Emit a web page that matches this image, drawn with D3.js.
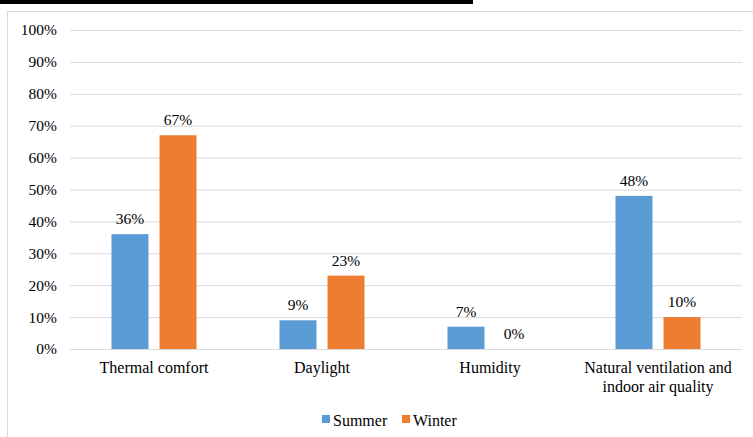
<!DOCTYPE html>
<html>
<head>
<meta charset="utf-8">
<script src="https://cdn.jsdelivr.net/npm/d3@7"></script>
<style>
  body { margin: 0; background: #fff; }
</style>
</head>
<body>
<script>
// chart data
const categories = ["Thermal comfort", "Daylight", "Humidity", "Natural ventilation and|indoor air quality"];
const seriesNames = ["Summer", "Winter"];
const summerValues = [36, 9, 7, 48];
const winterValues = [67, 23, 0, 10];
const yTicks = [0, 10, 20, 30, 40, 50, 60, 70, 80, 90, 100];

const width = 753, height = 437;
const colors = { Summer: "#5B9BD5", Winter: "#ED7D31" };
const serif = "Liberation Serif";

const svg = d3.select("body").append("svg")
  .attr("width", width)
  .attr("height", height)
  .attr("font-family", serif);

// cropped title bar at the top
svg.append("rect")
  .attr("x", 0).attr("y", 0)
  .attr("width", 473).attr("height", 4)
  .attr("fill", "#000");

// chart area border
svg.append("rect")
  .attr("x", 7.5).attr("y", 11.5)
  .attr("width", 760).attr("height", 440)
  .attr("fill", "none")
  .attr("stroke", "#d9d9d9");

const x = d3.scaleBand()
  .domain(categories)
  .range([70, 742]);

const xs = d3.scaleBand()
  .domain(seriesNames)
  .range([0, 85])
  .paddingInner(0.23);

const y = d3.scaleLinear()
  .domain([0, 100])
  .range([349, 30]);

// gridlines + y labels
const yAxis = svg.append("g")
  .attr("transform", "translate(70,0)")
  .call(d3.axisLeft(y).tickValues(yTicks).tickFormat(d => d + "%").tickSize(-672).tickPadding(13));
yAxis.attr("font-family", serif).attr("font-size", 15.5);
yAxis.select(".domain").remove();
yAxis.selectAll("line").attr("stroke", "#d9d9d9");
yAxis.selectAll("text")
  .style("font-family", serif)
  .style("font-size", "15.5px")
  .attr("fill", "#000");

const rows = categories.map((c, i) => ({ cat: c, Summer: summerValues[i], Winter: winterValues[i] }));

const groups = svg.append("g")
  .selectAll("g")
  .data(rows)
  .join("g")
  .attr("transform", d => `translate(${x(d.cat) + (x.bandwidth() - 85) / 2},0)`);

groups.selectAll("rect")
  .data(d => seriesNames.map(s => ({ key: s, value: d[s] })))
  .join("rect")
  .attr("x", d => xs(d.key))
  .attr("y", d => y(d.value))
  .attr("width", xs.bandwidth())
  .attr("height", d => y(0) - y(d.value))
  .attr("fill", d => colors[d.key]);

groups.selectAll("text.val")
  .data(d => seriesNames.map(s => ({ key: s, value: d[s] })))
  .join("text")
  .attr("class", "val")
  .attr("x", d => xs(d.key) + xs.bandwidth() / 2)
  .attr("y", d => y(d.value) - 10)
  .attr("text-anchor", "middle")
  .style("font-family", serif)
  .style("font-size", "15.5px")
  .text(d => d.value + "%");

// category labels
const catLabels = svg.append("g")
  .selectAll("text")
  .data(categories)
  .join("text")
  .attr("x", d => x(d) + x.bandwidth() / 2)
  .attr("y", 373)
  .attr("text-anchor", "middle")
  .style("font-family", serif)
  .style("font-size", "16px");
catLabels.selectAll("tspan")
  .data(d => d.split("|"))
  .join("tspan")
  .attr("x", function() { return this.parentNode.getAttribute("x"); })
  .attr("dy", (d, i) => i === 0 ? 0 : 19)
  .text(d => d);

// legend
const legend = svg.append("g")
  .selectAll("g")
  .data(seriesNames)
  .join("g")
  .attr("transform", (d, i) => `translate(${[322, 402][i]},0)`);
legend.append("rect")
  .attr("x", 0).attr("y", 415)
  .attr("width", 8).attr("height", 8)
  .attr("fill", d => colors[d]);
legend.append("text")
  .attr("x", 11).attr("y", 426)
  .style("font-family", serif)
  .style("font-size", "16px")
  .text(d => d);
</script>
</body>
</html>
